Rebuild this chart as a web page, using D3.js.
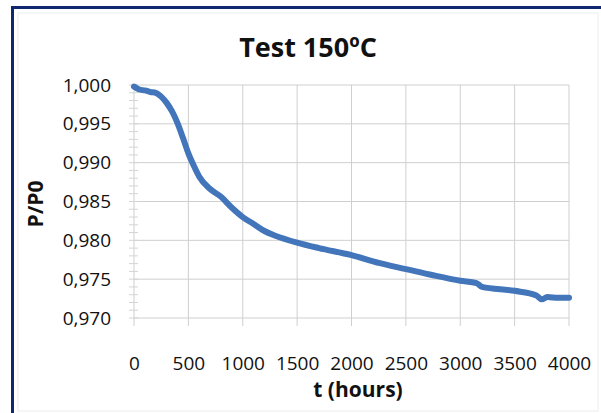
<!DOCTYPE html>
<html lang="en">
<head>
	<meta charset="utf-8">
	<title>Test 150ºC</title>
	<script src="https://d3js.org/d3.v7.min.js"></script>
	<style>
		body { margin: 0; background: #fff; }
		svg { display: block; font-family: "Open Sans", Roboto, sans-serif; }
	</style>
</head>
<body>
	<svg id="chart" width="601" height="413"></svg>
	<script type="text/javascript">

		// hours vs P/P0
		var hours = [0, 50, 100, 150, 200, 250, 300, 350, 400, 450, 500, 550, 600, 700, 800, 900, 1000, 1100, 1200, 1300, 1500, 1700, 2000, 2250, 2500, 2750, 3000, 3150, 3200, 3500, 3700, 3750, 3800, 3900, 4000];
		var ratio = [0.9998, 0.9994, 0.9993, 0.9991, 0.9990, 0.9985, 0.9977, 0.9966, 0.9951, 0.9932, 0.9912, 0.9896, 0.9882, 0.9866, 0.9856, 0.9842, 0.9830, 0.9821, 0.9812, 0.9806, 0.9797, 0.9790, 0.9781, 0.9771, 0.9763, 0.9755, 0.9748, 0.9745, 0.9740, 0.9735, 0.9729, 0.9724, 0.9727, 0.9726, 0.9726];
		var xTicks = [0, 500, 1000, 1500, 2000, 2500, 3000, 3500, 4000];
		var yTicks = [0.970, 0.975, 0.980, 0.985, 0.990, 0.995, 1.000];

		var svg = d3.select("#chart");

		// frame
		svg.append("rect").attr("x", 18).attr("y", 13).attr("width", 580).attr("height", 398)
			.attr("fill", "none").attr("stroke", "#ececec");
		svg.append("path").attr("d", "M12.5,413V7.5H601")
			.attr("fill", "none").attr("stroke", "#0f2870").attr("stroke-width", 3);

		var x = d3.scaleLinear().domain([0, 4000]).range([134, 569]);
		var y = d3.scaleLinear().domain([0.970, 1.000]).range([318, 85]);

		// grid
		svg.append("g").selectAll("line").data(yTicks).enter().append("line")
			.attr("x1", x(0)).attr("x2", x(4000))
			.attr("y1", function(d) { return y(d); }).attr("y2", function(d) { return y(d); })
			.attr("stroke", "#cfcfcf").attr("stroke-width", 1);
		svg.append("g").selectAll("line").data(xTicks).enter().append("line")
			.attr("y1", y(1.000)).attr("y2", y(0.970) + 8)
			.attr("x1", function(d) { return x(d); }).attr("x2", function(d) { return x(d); })
			.attr("stroke", "#cfcfcf").attr("stroke-width", 1);

		// y minor ticks
		var minor = d3.range(0, 31).map(function(i) { return 0.970 + i * 0.001; });
		svg.append("g").selectAll("line").data(minor).enter().append("line")
			.attr("x1", x(0) - 5).attr("x2", x(0) + 4)
			.attr("y1", function(d) { return y(d); }).attr("y2", function(d) { return y(d); })
			.attr("stroke", "#d4d4d4");

		// y axis labels
		var fmtY = function(d) { return d3.format(".3f")(d).replace(".", ","); };
		svg.append("g").call(d3.axisLeft(y).tickValues(yTicks).tickFormat(fmtY).tickSize(0).tickPadding(0))
			.attr("transform", "translate(111,0)")
			.call(function(g) { g.select(".domain").remove(); })
			.selectAll("text").attr("font-size", 19).attr("fill", "#111")
			.attr("font-family", "\"Open Sans\", sans-serif");

		// x axis labels
		svg.append("g").call(d3.axisBottom(x).tickValues(xTicks).tickFormat(d3.format("d")).tickSize(0).tickPadding(0))
			.attr("transform", "translate(0,356)")
			.call(function(g) { g.select(".domain").remove(); })
			.selectAll("text").attr("font-size", 19).attr("fill", "#111")
			.attr("font-family", "\"Open Sans\", sans-serif");

		// data line
		var pts = hours.map(function(h, i) { return [h, ratio[i]]; });
		svg.append("path").datum(pts)
			.attr("fill", "none").attr("stroke", "#4275ba").attr("stroke-width", 6)
			.attr("stroke-linejoin", "round").attr("stroke-linecap", "round")
			.attr("d", d3.line().x(function(d) { return x(d[0]); }).y(function(d) { return y(d[1]); }).curve(d3.curveMonotoneX));

		// titles
		svg.append("text").attr("x", 308).attr("y", 57).attr("text-anchor", "middle")
			.attr("font-size", 27).attr("font-weight", "bold").attr("fill", "#111").text("Test 150ºC");
		svg.append("text").attr("x", 358).attr("y", 397).attr("text-anchor", "middle")
			.attr("font-size", 21).attr("font-weight", "bold").attr("fill", "#111").text("t (hours)");
		svg.append("text").attr("transform", "translate(43,204) rotate(-90)").attr("text-anchor", "middle")
			.attr("font-size", 21).attr("font-weight", "bold").attr("fill", "#111").text("P/P0");
	</script>
</body>
</html>
